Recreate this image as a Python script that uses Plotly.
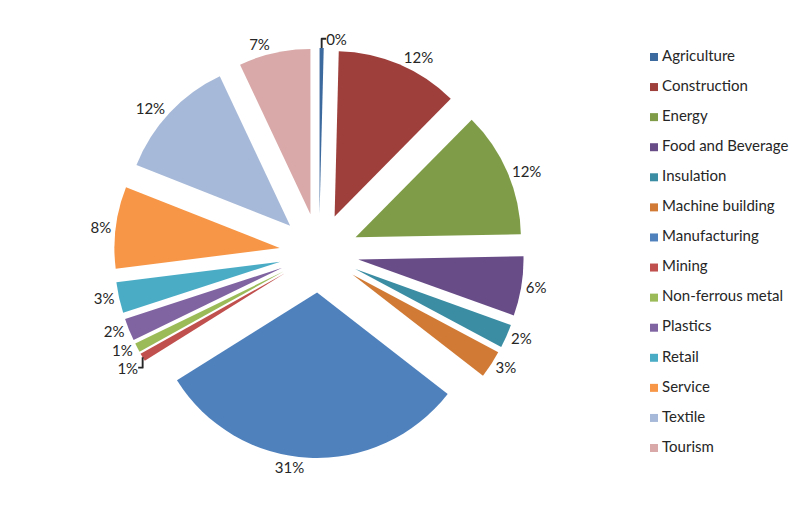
import plotly.graph_objects as go

# sector shares (percent)
sectors = ['Agriculture', 'Construction', 'Energy', 'Food and Beverage', 'Insulation',
           'Machine building', 'Manufacturing', 'Mining', 'Non-ferrous metal', 'Plastics',
           'Retail', 'Service', 'Textile', 'Tourism']
shares = [0.4, 12.0, 12.3, 5.8, 2.3, 2.7, 30.6, 0.8, 0.9, 2.2, 3.0, 8.0, 12.0, 7.0]
colors = ['#3D6A9E', '#9E3F3C', '#7F9D48', '#684C88', '#3A8DA3', '#D07A35', '#4F81BD',
          '#C0504D', '#9BBB59', '#8064A2', '#4BACC6', '#F79646', '#A7B9D8', '#D8A9A8']

FONT = 'Lato'
TEXT = '#262626'

fig = go.Figure()

fig.add_trace(go.Pie(
    labels=sectors,
    values=shares,
    sort=False,
    direction='clockwise',
    rotation=0,
    pull=0.24,
    marker=dict(colors=colors, line=dict(width=0)),
    texttemplate='%{percent:.0%}',
    textposition='outside',
    outsidetextfont=dict(family=FONT, size=15, color=TEXT),
    domain=dict(x=[0.131, 0.639], y=[0.1125, 0.9211]),
    showlegend=False,
    hoverinfo='label+percent',
))

# legend drawn as marker + label columns on their own hidden axes (Excel-like spacing)
rows = list(range(len(sectors)))
fig.add_trace(go.Scatter(
    x=[0] * len(sectors), y=rows,
    mode='markers',
    marker=dict(symbol='square', size=8, color=colors),
    cliponaxis=False,
    hoverinfo='skip',
    showlegend=False,
))
fig.add_trace(go.Scatter(
    x=[0.05] * len(sectors), y=rows,
    mode='text',
    text=sectors,
    textposition='middle right',
    textfont=dict(family=FONT, size=15, color=TEXT),
    cliponaxis=False,
    hoverinfo='skip',
    showlegend=False,
))

fig.update_layout(
    width=808, height=507,
    margin=dict(l=0, r=0, t=0, b=0, pad=0, autoexpand=False),
    paper_bgcolor='white',
    plot_bgcolor='white',
    showlegend=False,
    xaxis=dict(visible=False, domain=[0.7995, 1.0], range=[0, 1]),
    yaxis=dict(visible=False, domain=[0.1321, 0.9034], range=[13, 0]),
)

fig.write_html("out.html")
